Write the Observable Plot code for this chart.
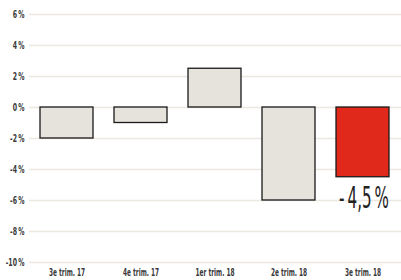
<!DOCTYPE html>
<html><head><meta charset="utf-8">
<script src="https://cdn.jsdelivr.net/npm/d3@7"></script>
<script src="https://cdn.jsdelivr.net/npm/@observablehq/plot@0.6"></script>
<style>
body{margin:0;background:#fff;}
</style></head><body>
<div id="chart"></div>
<script>
const quarters = ["3e trim. 17","4e trim. 17","1er trim. 18","2e trim. 18","3e trim. 18"];
const values = [-2, -1, 2.5, -6, -4.5];
const highlight = [false, false, false, false, true];
const yTicks = [6, 4, 2, 0, -2, -4, -6, -8, -10];
const lastLabel = "-\u20094,5\u2009%";

const data = quarters.map((q,i)=>({q, v: values[i], h: highlight[i]}));
const fmt = d => (d < 0 ? "-" : "") + Math.abs(d) + "\u2009%";

const chart = Plot.plot({
  width: 401, height: 280,
  marginLeft: 29, marginRight: 0, marginTop: 14, marginBottom: 18,
  style: {fontFamily: '"DejaVu Sans Condensed","DejaVu Sans",sans-serif', fontStretch: "condensed", color:"#333", background:"#fff"},
  x: {domain: quarters, paddingInner: 0.28, paddingOuter: 0.13, align: 0.5, label: null, tickSize: 0, tickPadding: 6},
  y: {domain: [-10, 6], label: null, ticks: yTicks, tickFormat: fmt, tickSize: 0, tickPadding: 5},
  marks: [
    Plot.ruleY(yTicks, {stroke: "#ebe7e1", strokeWidth: 1.5}),
    Plot.barY(data, {x: "q", y: "v", fill: d => d.h ? "#e0291a" : "#e6e2dc", stroke: "#1a1a1a", strokeWidth: 1.3}),
    Plot.text(data.filter(d=>d.h), {x: "q", y: "v", text: () => lastLabel, dy: 21, dx: 1, fontSize: 30, fontWeight: 200, fill: "#222", textAnchor: "middle"})
  ]
});
chart.querySelectorAll('g[aria-label$="tick label"]').forEach(g=>{g.setAttribute("font-size","10.5"); g.setAttribute("fill","#3a3a3a"); g.setAttribute("font-weight","bold");});
function squeeze(t, s){
  const old = t.getAttribute("transform") || "";
  t.setAttribute("transform", `${old} scale(${s},1)`);
}
chart.querySelectorAll('g[aria-label="x-axis tick label"] text').forEach(t=>squeeze(t, 0.62));
chart.querySelectorAll('g[aria-label="y-axis tick label"] text').forEach(t=>squeeze(t, 0.66));
chart.querySelectorAll('g[aria-label="text"] text').forEach(t=>squeeze(t, 0.56));
document.getElementById("chart").appendChild(chart);
</script></body></html>
